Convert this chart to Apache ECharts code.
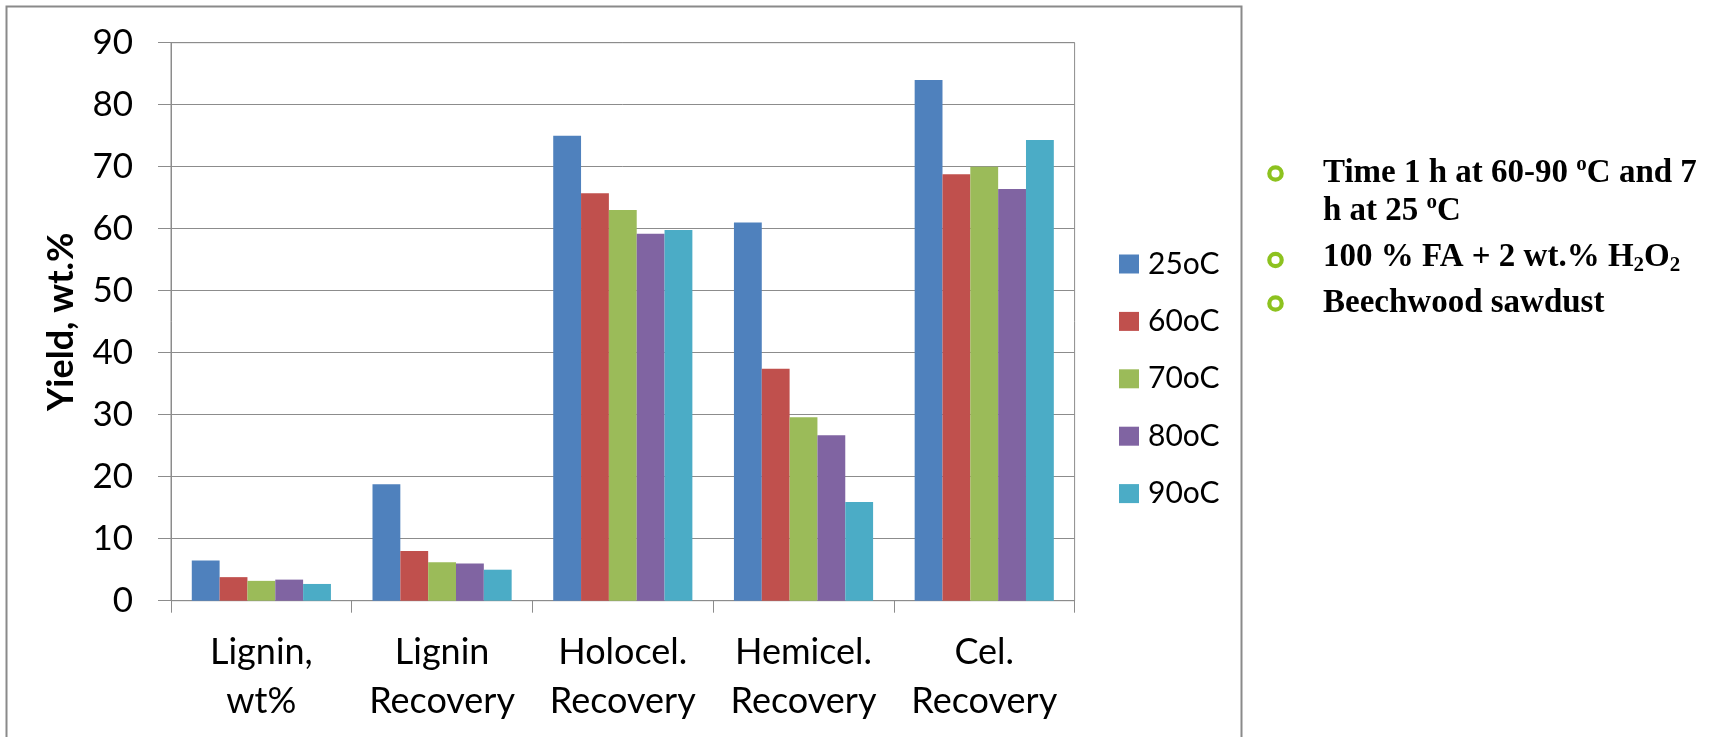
<!DOCTYPE html>
<html>
<head>
<meta charset="utf-8">
<script src="https://cdn.jsdelivr.net/npm/echarts@6/dist/echarts.min.js"></script>
<style>
html,body{margin:0;padding:0;background:#fff;}
#chart{width:1709px;height:737px;}
</style>
</head>
<body>
<div id="chart"></div>
<script>
// ---- data ----
var categories = ['Lignin,\nwt%', 'Lignin\nRecovery', 'Holocel.\nRecovery', 'Hemicel.\nRecovery', 'Cel.\nRecovery'];
var seriesNames = ['25oC', '60oC', '70oC', '80oC', '90oC'];
var s25 = [6.5, 18.8, 75.0, 61.0, 84.0];
var s60 = [3.8, 8.0, 65.7, 37.4, 68.8];
var s70 = [3.2, 6.2, 63.0, 29.6, 70.0];
var s80 = [3.4, 6.0, 59.2, 26.7, 66.4];
var s90 = [2.7, 5.0, 59.8, 15.9, 74.3];
var yTicks = {min: 0, max: 90, interval: 10};
var yTitle = 'Yield, wt.%';
var notes = [
  ['{n|Time 1 h at 60-90 }{sup|o}{n|C and 7}', '{n|h at 25 }{sup|o}{n|C}'],
  ['{n|100 % FA + 2 wt.% H}{sub|2}{n|O}{sub|2}'],
  ['{n|Beechwood sawdust}']
];

var colors = ['#4F81BD', '#C0504D', '#9BBB59', '#8064A2', '#4BACC6'];
var allSeries = [s25, s60, s70, s80, s90];

var chart = echarts.init(document.getElementById('chart'), null, {renderer: 'canvas'});

var series = allSeries.map(function (d, i) {
  return {
    name: seriesNames[i],
    type: 'bar',
    data: d,
    barGap: '0%',
    barCategoryGap: '23%',
    itemStyle: {color: colors[i]}
  };
});

// right-hand notes as graphic elements
var noteFont = 'Liberation Serif, Times New Roman, serif';
var noteColor = '#3E3C30';
var rich = {
  n: {fontFamily: noteFont, fontWeight: 'bold', fontSize: 33, lineHeight: 38, color: noteColor},
  sup: {fontFamily: noteFont, fontWeight: 'bold', fontSize: 21, lineHeight: 22, verticalAlign: 'top', color: noteColor},
  sub: {fontFamily: noteFont, fontWeight: 'bold', fontSize: 21, lineHeight: 16, verticalAlign: 'bottom', color: noteColor}
};
var noteTops = [154, 238, 284];
var bulletYs = [173.5, 260, 303.5];
var graphics = [
  {type: 'rect', shape: {x: 6.5, y: 6.5, width: 1235, height: 800}, style: {fill: 'none', stroke: '#8a8a8a', lineWidth: 2}, silent: true}
];
notes.forEach(function (lines, i) {
  graphics.push({type: 'circle', shape: {cx: 1275.5, cy: bulletYs[i], r: 6.2}, style: {fill: '#fff', stroke: '#8DC21F', lineWidth: 4.2}, silent: true});
  graphics.push({type: 'text', x: 1323, y: noteTops[i], style: {text: lines.join('\n'), rich: rich, align: 'left', verticalAlign: 'top'}, silent: true});
});

var option = {
  animation: false,
  backgroundColor: '#ffffff',
  color: colors,
  grid: {left: 171, top: 42.7, right: 634.4, bottom: 136.3, show: true, borderColor: '#8c8c8c', borderWidth: 1, containLabel: false},
  legend: {
    orient: 'vertical',
    left: 1114,
    top: 244,
    itemWidth: 20,
    itemHeight: 19,
    itemGap: 27.4,
    icon: 'rect',
    data: seriesNames,
    textStyle: {fontFamily: 'Lato', fontSize: 30, lineHeight: 30, color: '#000', padding: [0, 0, 0, 4]}
  },
  xAxis: {
    type: 'category',
    data: categories,
    axisLine: {show: true, lineStyle: {color: '#8c8c8c', width: 1}},
    axisTick: {show: true, length: 12, lineStyle: {color: '#8c8c8c'}},
    axisLabel: {interval: 0, fontFamily: 'Lato', fontSize: 36, lineHeight: 49, color: '#000', margin: 27}
  },
  yAxis: {
    type: 'value',
    min: yTicks.min,
    max: yTicks.max,
    interval: yTicks.interval,
    name: yTitle,
    nameLocation: 'middle',
    nameGap: 92,
    nameTextStyle: {fontFamily: 'Lato', fontWeight: 'bold', fontSize: 36, color: '#000'},
    axisLine: {show: true, lineStyle: {color: '#8c8c8c', width: 1}},
    axisTick: {show: true, length: 13, lineStyle: {color: '#8c8c8c'}},
    splitLine: {show: true, lineStyle: {color: '#8c8c8c', width: 1}},
    axisLabel: {fontFamily: 'Lato', fontSize: 35, color: '#000', margin: 38}
  },
  series: series,
  graphic: graphics
};
chart.setOption(option);
</script>
</body>
</html>
